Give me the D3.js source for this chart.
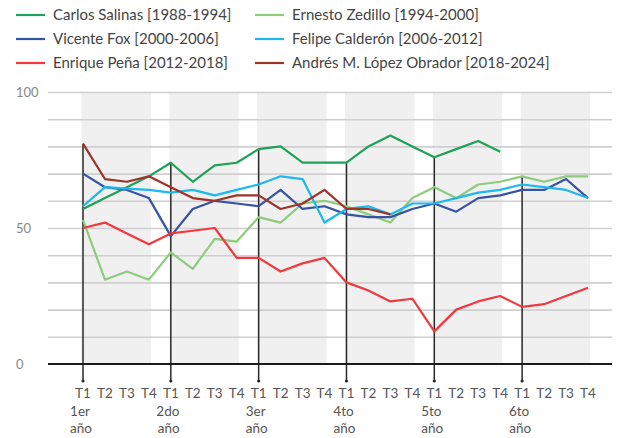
<!DOCTYPE html>
<html>
<head>
<meta charset="utf-8">
<script src="https://cdn.jsdelivr.net/npm/d3@7"></script>
<style>
  body { margin: 0; background: #fff; }
  svg text { font-family: Lato, "Open Sans", sans-serif; }
</style>
</head>
<body>
<div id="chart"></div>
<script>
// quarters of a six year term
var quarters = ["T1", "T2", "T3", "T4"];
var years = ["1er", "2do", "3er", "4to", "5to", "6to"];
var yTicks = [0, 50, 100];

var names = [
  "Carlos Salinas [1988-1994]",
  "Ernesto Zedillo [1994-2000]",
  "Vicente Fox [2000-2006]",
  "Felipe Calderón [2006-2012]",
  "Enrique Peña [2012-2018]",
  "Andrés M. López Obrador [2018-2024]"
];
var colors = ["#1fa257", "#8ccc7c", "#3653a4", "#1cb8f0", "#f0383d", "#9c3428"];

// approval values per quarter
var salinas = [57, 61, 65, 69, 74, 67, 73, 74, 79, 80, 74, 74, 74, 80, 84, 80, 76, 79, 82, 78];
var zedillo = [53, 31, 34, 31, 41, 35, 46, 45, 54, 52, 59, 60, 58, 55, 52, 61, 65, 61, 66, 67, 69, 67, 69, 69];
var fox = [70, 65, 64, 61, 47, 57, 60, 59, 58, 64, 57, 58, 55, 54, 54, 57, 59, 56, 61, 62, 64, 64, 68, 61];
var calderon = [58, 65, 64.5, 64, 63, 64, 62, 64, 66, 69, 68, 52, 57, 58, 55, 59, 59, 61, 63, 64, 66, 65, 64, 61];
var pena = [50, 52, 48, 44, 48, 49, 50, 39, 39, 34, 37, 39, 30, 27, 23, 24, 12, 20, 23, 25, 21, 22, 25, 28];
var amlo = [81, 68, 67, 69, 65, 61, 60, 62, 62, 57, 59, 64, 57, 57, 55];

var series = [salinas, zedillo, fox, calderon, pena, amlo];

var width = 617, height = 438;

var x = d3.scaleLinear().domain([0, 23]).range([83, 588]);
var y = d3.scaleLinear().domain([0, 100]).range([364, 92]);

var svg = d3.select("#chart").append("svg")
  .attr("width", width)
  .attr("height", height);

// grey bands, one per year
svg.selectAll(".band")
  .data(years)
  .enter().append("rect")
  .attr("class", "band")
  .attr("x", function(d, i) { return x(i * 4) - 1.5; })
  .attr("width", function(d, i) { return x(i * 4 + 3) - x(i * 4) + 3.5; })
  .attr("y", y(100))
  .attr("height", y(0) - y(100))
  .style("fill", "#f0f0f0");

// horizontal grid
svg.append("g")
  .attr("transform", "translate(612,0)")
  .call(function(g) {
    g.call(d3.axisLeft(y).tickValues(d3.range(10, 101, 10)).tickSize(612 - 48).tickFormat(""));
    g.select(".domain").remove();
    g.selectAll("line").style("stroke", "#cfcfcf").style("stroke-width", 1.6);
  });

// y labels
svg.selectAll(".ylab")
  .data(yTicks)
  .enter().append("text")
  .attr("class", "ylab")
  .attr("x", 16)
  .attr("y", function(d) { return y(d); })
  .attr("dy", "0.35em")
  .style("font-size", "13px")
  .style("fill", "#888")
  .text(function(d) { return d; });

// vertical markers at start of each year, from top value to below axis
var yearStarts = years.map(function(d, i) {
  var idx = i * 4;
  var top = d3.max(series, function(s) { return s[idx] === undefined ? 0 : s[idx]; });
  return { idx: idx, top: top };
});

svg.selectAll(".vline")
  .data(yearStarts)
  .enter().append("line")
  .attr("class", "vline")
  .attr("x1", function(d) { return x(d.idx); })
  .attr("x2", function(d) { return x(d.idx); })
  .attr("y1", function(d) { return y(d.top); })
  .attr("y2", 381)
  .style("stroke", "#2a2a2a")
  .style("stroke-width", 1.5);

svg.selectAll(".vdot")
  .data(yearStarts)
  .enter().append("circle")
  .attr("cx", function(d) { return x(d.idx); })
  .attr("cy", 381)
  .attr("r", 1.6)
  .style("fill", "#2a2a2a");

// zero line
svg.append("line")
  .attr("x1", 48).attr("x2", 612)
  .attr("y1", y(0)).attr("y2", y(0))
  .style("stroke", "#1a1a1a")
  .style("stroke-width", 2);

// the series
var line = d3.line()
  .x(function(d, i) { return x(i); })
  .y(function(d) { return y(d); });

svg.selectAll(".series")
  .data(series)
  .enter().append("path")
  .attr("class", "series")
  .attr("d", line)
  .style("fill", "none")
  .style("stroke", function(d, i) { return colors[i]; })
  .style("stroke-width", 2.2)
  .style("stroke-linejoin", "round");

// x labels
var qIdx = d3.range(24);
svg.selectAll(".qlab")
  .data(qIdx)
  .enter().append("text")
  .attr("class", "qlab")
  .attr("x", function(d) { return x(d); })
  .attr("y", 393)
  .attr("dy", "0.35em")
  .attr("text-anchor", "middle")
  .style("font-size", "13.5px")
  .style("fill", "#555")
  .text(function(d) { return quarters[d % 4]; });

svg.selectAll(".yrlab")
  .data(years)
  .enter().append("text")
  .attr("class", "yrlab")
  .attr("x", function(d, i) { return x(i * 4) - 3; })
  .attr("y", 411)
  .attr("dy", "0.35em")
  .attr("text-anchor", "middle")
  .style("font-size", "13.5px")
  .style("fill", "#555")
  .text(function(d) { return d; });

svg.selectAll(".anolab")
  .data(years)
  .enter().append("text")
  .attr("class", "anolab")
  .attr("x", function(d, i) { return x(i * 4) - 2; })
  .attr("y", 428)
  .attr("dy", "0.35em")
  .attr("text-anchor", "middle")
  .style("font-size", "13.5px")
  .style("fill", "#555")
  .text("año");

// legend, two columns
var legend = svg.selectAll(".legend")
  .data(names)
  .enter().append("g")
  .attr("class", "legend")
  .attr("transform", function(d, i) {
    var col = i % 2, row = Math.floor(i / 2);
    return "translate(" + (col === 0 ? 16 : 255) + "," + (15 + row * 24) + ")";
  });

legend.append("line")
  .attr("x1", 0).attr("x2", 29)
  .attr("y1", 0).attr("y2", 0)
  .style("stroke", function(d, i) { return colors[i]; })
  .style("stroke-width", 2.2);

legend.append("text")
  .attr("x", 37)
  .attr("y", 0)
  .attr("dy", "0.35em")
  .style("font-size", "15px")
  .style("fill", "#444")
  .text(function(d) { return d; });
</script>
</body>
</html>
